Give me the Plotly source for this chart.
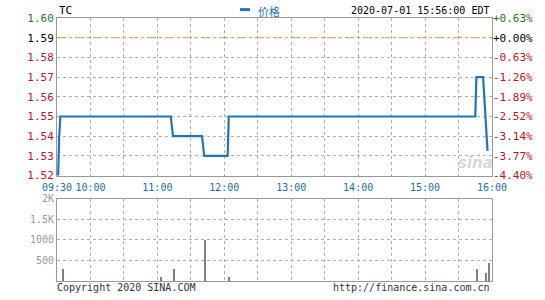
import plotly.graph_objects as go

DAY = "2020-07-01"
PREV_CLOSE = 1.59

# price line (time, price)
price_times = ["09:30", "09:31", "09:32", "09:33", "11:12", "11:13", "11:14",
               "11:40", "11:41", "11:42", "12:03", "12:04", "15:45", "15:46",
               "15:52", "15:55", "15:56"]
price_values = [1.52, 1.52, 1.54, 1.55, 1.55, 1.545, 1.54,
                1.54, 1.535, 1.53, 1.53, 1.55, 1.55, 1.57,
                1.57, 1.54, 1.5325]

# volume bars
vol_times = ["09:35", "11:03", "11:15", "11:43", "12:04", "15:47", "15:55", "15:57"]
vol_values = [300, 100, 300, 1000, 100, 300, 200, 450]

# axis ticks
price_ticks = [1.52, 1.53, 1.54, 1.55, 1.56, 1.57, 1.58, 1.59, 1.60]
pct_labels = ["-4.40%", "-3.77%", "-3.14%", "-2.52%", "-1.89%", "-1.26%", "-0.63%", "+0.00%", "+0.63%"]
time_ticks = ["09:30", "10:00", "10:30", "11:00", "11:30", "12:00", "12:30", "13:00",
              "13:30", "14:00", "14:30", "15:00", "15:30", "16:00"]
time_labels = ["09:30", "10:00", "", "11:00", "", "12:00", "", "13:00",
               "", "14:00", "", "15:00", "", "16:00"]
vol_ticks = [500, 1000, 1500, 2000]
vol_labels = ["500", "1000", "1.5K", "2K"]

FONT = "DejaVu Sans Mono"
RED = "#c0141c"
GREEN = "#1a7a1a"
BLUE = "#1f78b4"
TICKBLUE = "#1a6ea8"
GRID = "#b0b0b0"
BORDER = "#999999"


def ts(t):
    return f"{DAY} {t}"


def colored(p, txt):
    if abs(p - PREV_CLOSE) < 1e-9:
        c = "#000000"
    elif p > PREV_CLOSE:
        c = GREEN
    else:
        c = RED
    return f"<span style='color:{c}'>{txt}</span>"


fig = go.Figure()

fig.add_trace(go.Scatter(
    x=[ts(t) for t in price_times], y=price_values, mode="lines",
    line=dict(color=BLUE, width=2.2), xaxis="x", yaxis="y", name="价格",
    showlegend=False, hoverinfo="skip"))

# invisible trace to show the right percent axis
fig.add_trace(go.Scatter(
    x=[ts(price_times[0])], y=[price_values[0]], mode="markers",
    marker=dict(opacity=0), xaxis="x", yaxis="y2", showlegend=False, hoverinfo="skip"))

fig.add_trace(go.Bar(
    x=[ts(t) for t in vol_times], y=vol_values, width=55000,
    marker=dict(color="#808080", line=dict(width=0)),
    xaxis="x2", yaxis="y3", showlegend=False, hoverinfo="skip"))

x_range = [ts("09:30"), ts("16:00")]
main_bottom = (285 - 178) / 267
vol_top = (285 - 201.5) / 267

axis_common = dict(showline=True, linecolor=BORDER, linewidth=1, mirror=True,
                   showgrid=True, gridcolor=GRID, griddash="dot", gridwidth=1,
                   zeroline=False, ticks="")

fig.update_layout(
    width=545, height=300, autosize=False,
    margin=dict(l=57, r=53, t=18, b=15),
    paper_bgcolor="white", plot_bgcolor="white",
    font=dict(family=FONT, size=11, color="#000"),
    xaxis=dict(domain=[0, 1], anchor="y", type="date", range=x_range,
               tickvals=[ts(t) for t in time_ticks], ticktext=time_labels,
               tickfont=dict(color=TICKBLUE, size=10, family=FONT),
               ticklabelstandoff=2, **axis_common),
    yaxis=dict(domain=[main_bottom, 1], anchor="x", range=[1.52, 1.60],
               tickvals=price_ticks,
               ticktext=[colored(p, f"{p:.2f}") for p in price_ticks],
               tickfont=dict(size=11, family=FONT),
               **axis_common),
    yaxis2=dict(overlaying="y", side="right", anchor="x", range=[1.52, 1.60],
                tickvals=price_ticks,
                ticktext=[colored(p, l) for p, l in zip(price_ticks, pct_labels)],
                tickfont=dict(size=11, family=FONT),
                showgrid=False, zeroline=False, showline=False, ticks=""),
    xaxis2=dict(domain=[0, 1], anchor="y3", type="date", range=x_range,
                tickvals=[ts(t) for t in time_ticks], showticklabels=False,
                **axis_common),
    yaxis3=dict(domain=[0, vol_top], anchor="x2", range=[0, 2000],
                tickvals=vol_ticks, ticktext=vol_labels,
                tickfont=dict(size=10, color="#999999", family=FONT),
                **axis_common),
    bargap=0,
)

# previous close reference line
fig.add_shape(type="line", xref="x domain", x0=0, x1=1, yref="y",
              y0=PREV_CLOSE, y1=PREV_CLOSE,
              line=dict(color="#f0a030", width=1, dash="dashdot"))

# legend marker
fig.add_shape(type="line", xref="paper", yref="paper",
              x0=(240 - 57) / 435, x1=(250 - 57) / 435,
              y0=1 + (18 - 9.5) / 267, y1=1 + (18 - 9.5) / 267,
              line=dict(color=BLUE, width=3))

hdr_y = 1 + (18 - 10.5) / 267
bot_y = -(292 - 285) / 267
fig.add_annotation(text="TC", xref="paper", yref="paper", x=0, y=hdr_y,
                   xanchor="left", yanchor="middle", showarrow=False,
                   font=dict(family=FONT, size=11, color="#000"))
fig.add_annotation(text="价格", xref="paper", yref="paper", x=(256 - 57) / 435, y=hdr_y,
                   xanchor="left", yanchor="middle", showarrow=False,
                   font=dict(family="Noto Sans CJK SC", size=11, color=BLUE))
fig.add_annotation(text="2020-07-01 15:56:00 EDT", xref="paper", yref="paper",
                   x=(491 - 57) / 435, y=hdr_y, xanchor="right", yanchor="middle",
                   showarrow=False, font=dict(family=FONT, size=10, color="#000"))
fig.add_annotation(text="Copyright 2020 SINA.COM", xref="paper", yref="paper",
                   x=(55 - 57) / 435, y=bot_y, xanchor="left", yanchor="middle",
                   showarrow=False, font=dict(family=FONT, size=10, color="#333"))
fig.add_annotation(text="http://finance.sina.com.cn", xref="paper", yref="paper",
                   x=(492 - 57) / 435, y=bot_y, xanchor="right", yanchor="middle",
                   showarrow=False, font=dict(family=FONT, size=10, color="#333"))
fig.add_annotation(text="<b><i>sina</i></b>", xref="paper", yref="paper",
                   x=(475 - 57) / 435, y=(285 - 165) / 267, xanchor="center",
                   yanchor="middle", showarrow=False,
                   font=dict(family="DejaVu Sans", size=15, color="#d8d8d8"))

fig.write_html("out.html")
